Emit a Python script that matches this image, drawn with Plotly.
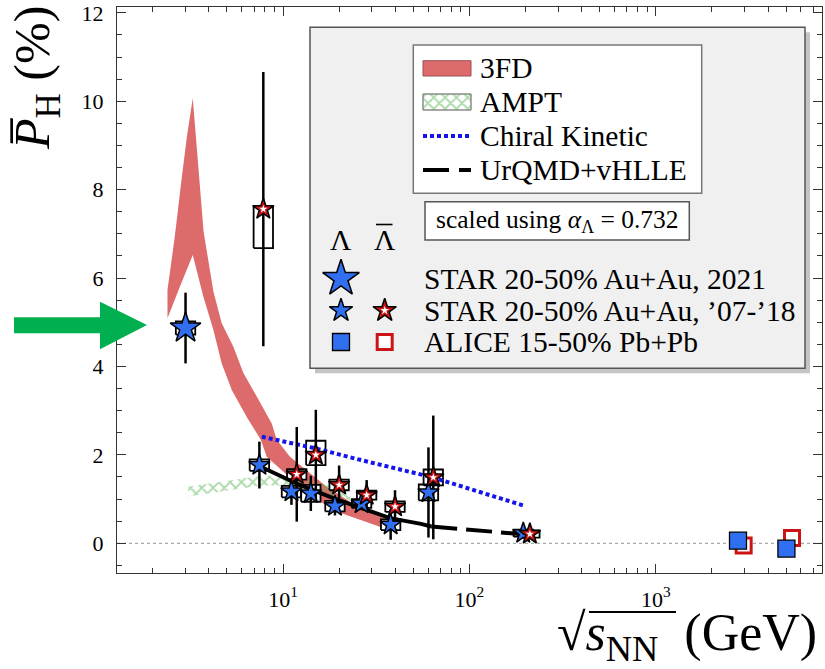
import plotly.graph_objects as go

# ---------------- data ----------------
# STAR 2021 (3 GeV) Lambda
star21_x = [3.0]
star21_y = [4.87]
star21_err = [0.80]
star21_sys = [0.15]

# STAR '07-'18 Lambda (blue)
lam_x = [7.47, 11.1, 14.1, 19.0, 26.4, 37.8, 60.3, 194.5]
lam_y = [1.77, 1.17, 1.13, 0.84, 0.90, 0.42, 1.15, 0.23]
lam_err = [0.53, 0.30, 0.40, 0.21, 0.15, 0.34, 1.02, 0.10]
lam_sys_lo = [0.13, 0.13, 0.19, 0.12, 0.10, 0.12, 0.18, 0.08]
lam_sys_hi = [0.13, 0.13, 0.19, 0.12, 0.10, 0.12, 0.18, 0.08]

# STAR '07-'18 anti-Lambda (red)
lbar_x = [7.84, 11.85, 15.0, 20.0, 28.1, 39.9, 64.0, 211.0]
lbar_y = [7.56, 1.56, 2.00, 1.32, 1.09, 0.83, 1.49, 0.21]
lbar_err = [3.10, 1.07, 1.02, 0.44, 0.34, 0.37, 1.40, 0.10]
lbar_sys_lo = [0.88, 0.12, 0.23, 0.12, 0.10, 0.12, 0.18, 0.08]
lbar_sys_hi = [0.05, 0.12, 0.32, 0.12, 0.10, 0.12, 0.18, 0.08]

# ALICE
alice_lam_x = [2760, 5020]
alice_lam_y = [0.06, -0.12]
alice_lbar_x = [2960, 5380]
alice_lbar_y = [-0.05, 0.12]

# 3FD band (upper and lower boundaries)
fd_up_x = [2.4, 2.62, 2.85, 3.05, 3.28, 3.75, 4.23, 4.69, 5.41, 6.13, 7.23, 8.70, 9.25, 10.9, 17.15, 26.85, 37.5]
fd_up_y = [5.73, 6.9, 8.2, 9.2, 10.07, 7.05, 5.7, 4.98, 4.45, 3.85, 3.32, 2.71, 2.34, 1.96, 1.28, 0.75, 0.52]
fd_lo_x = [2.4, 2.8, 3.28, 3.74, 4.23, 4.69, 5.31, 6.39, 7.6, 8.18, 12.34, 18.5, 34.0]
fd_lo_y = [5.09, 5.81, 6.52, 5.58, 4.83, 4.07, 3.47, 2.86, 2.34, 1.96, 1.28, 0.75, 0.36]

# AMPT band
ampt_x = [3.1, 4.0, 5.0, 6.2, 7.7, 9.5, 11.5, 14.5, 19.6, 23.0]
ampt_hi = [1.28, 1.35, 1.41, 1.47, 1.53, 1.53, 1.49, 1.40, 1.27, 1.19]
ampt_lo = [1.06, 1.13, 1.19, 1.25, 1.31, 1.31, 1.27, 1.18, 1.05, 0.97]

# Chiral kinetic
ck_x = [7.7, 14.5, 27, 62.4, 200]
ck_y = [2.41, 2.16, 1.87, 1.50, 0.84]

# UrQMD+vHLLE
uq_solid_x = [7.7, 12.3, 18.6, 28, 37.5, 55, 62.4]
uq_solid_y = [1.72, 1.32, 1.02, 0.75, 0.57, 0.44, 0.38]
uq_dash_x = [62.4, 133, 200]
uq_dash_y = [0.38, 0.26, 0.20]

x_tickvals = [10, 100, 1000]
x_ticktext = ["10<sup>1</sup>", "10<sup>2</sup>", "10<sup>3</sup>"]
y_tickvals = [0, 2, 4, 6, 8, 10, 12]
y_ticktext = ["0", "2", "4", "6", "8", "10", "12"]

# ---------------- layout helpers ----------------
W, H = 825, 669
L, R, T, B = 117, 3, 7, 96
X0, X1, Y0, Y1 = L, W - R, T, H - B      # plot frame in page pixels
FONT = "Liberation Serif, DejaVu Serif, serif"
BLUE = "#3070F0"
RED = "#CC1414"
BAND = "#DD6B6B"
GREEN_H = "#5CB85C"


def px(x):
    return (x - X0) / (X1 - X0)


def py(y):
    return (Y1 - y) / (Y1 - Y0)


BOXW = 10 ** 0.052  # half-width factor of systematic boxes (log axis)


def boxes(xs, ys, lo, hi):
    bx, by = [], []
    for x, y, a, b in zip(xs, ys, lo, hi):
        x0, x1 = x / BOXW, x * BOXW
        bx += [x0, x1, x1, x0, x0, None]
        by += [y - a, y - a, y + b, y + b, y - a, None]
    return bx, by


HATCH = dict(shape="x", fgcolor=GREEN_H, bgcolor="rgba(0,0,0,0)", size=8, solidity=0.42)

fig = go.Figure()

# 3FD band
fig.add_trace(go.Scatter(
    x=fd_up_x + fd_lo_x[::-1], y=fd_up_y + fd_lo_y[::-1],
    mode="lines", fill="toself", fillcolor=BAND, line=dict(width=0),
    hoverinfo="skip", showlegend=False))

# AMPT hatched band
fig.add_trace(go.Scatter(
    x=ampt_x + ampt_x[::-1], y=ampt_hi + ampt_lo[::-1],
    mode="lines", fill="toself", fillcolor="rgba(0,0,0,0)", line=dict(width=0),
    fillpattern=HATCH, hoverinfo="skip", showlegend=False))

# systematic boxes
sx, sy = boxes(star21_x, star21_y, star21_sys, star21_sys)
bx, by = boxes(lam_x, lam_y, lam_sys_lo, lam_sys_hi)
rx, ry = boxes(lbar_x, lbar_y, lbar_sys_lo, lbar_sys_hi)
fig.add_trace(go.Scatter(x=sx + bx + rx, y=sy + by + ry, mode="lines",
                         fill="toself", fillcolor="white",
                         line=dict(color="black", width=1.8),
                         hoverinfo="skip", showlegend=False))

# Chiral kinetic
fig.add_trace(go.Scatter(x=ck_x, y=ck_y, mode="lines",
                         line=dict(color="#1414EE", width=4, dash="4px,3px"),
                         hoverinfo="skip", showlegend=False))
# UrQMD+vHLLE
fig.add_trace(go.Scatter(x=uq_solid_x, y=uq_solid_y, mode="lines",
                         line=dict(color="black", width=4),
                         hoverinfo="skip", showlegend=False))
fig.add_trace(go.Scatter(x=uq_dash_x, y=uq_dash_y, mode="lines",
                         line=dict(color="black", width=4, dash="26px,9px"),
                         hoverinfo="skip", showlegend=False))

# error bars
err_style = dict(type="data", thickness=2.5, width=0, color="black")
inv = dict(size=1, color="rgba(0,0,0,0)")
fig.add_trace(go.Scatter(x=star21_x, y=star21_y, mode="markers", marker=inv,
                         error_y=dict(array=star21_err, **err_style), showlegend=False))
fig.add_trace(go.Scatter(x=lam_x, y=lam_y, mode="markers", marker=inv,
                         error_y=dict(array=lam_err, **err_style), showlegend=False))
fig.add_trace(go.Scatter(x=lbar_x, y=lbar_y, mode="markers", marker=inv,
                         error_y=dict(array=lbar_err, **err_style), showlegend=False))

# stars
fig.add_trace(go.Scatter(x=star21_x, y=star21_y, mode="markers",
                         marker=dict(symbol="star", size=23, color=BLUE,
                                     line=dict(color="black", width=1.5)),
                         showlegend=False))
fig.add_trace(go.Scatter(x=lam_x, y=lam_y, mode="markers",
                         marker=dict(symbol="star", size=16, color=BLUE,
                                     line=dict(color="black", width=1.5)),
                         showlegend=False))
fig.add_trace(go.Scatter(x=lbar_x, y=lbar_y, mode="markers",
                         marker=dict(symbol="star", size=16, color=RED,
                                     line=dict(color="black", width=1.5)),
                         showlegend=False))
fig.add_trace(go.Scatter(x=lbar_x, y=lbar_y, mode="markers",
                         marker=dict(symbol="star", size=6, color="white",
                                     line=dict(width=0)),
                         showlegend=False))

# ALICE squares
fig.add_trace(go.Scatter(x=alice_lbar_x, y=alice_lbar_y, mode="markers",
                         marker=dict(symbol="square", size=15, color="white",
                                     line=dict(color=RED, width=3)),
                         showlegend=False))
fig.add_trace(go.Scatter(x=alice_lam_x, y=alice_lam_y, mode="markers",
                         marker=dict(symbol="square", size=17, color=BLUE,
                                     line=dict(color="black", width=1.3)),
                         showlegend=False))

# ---------------- custom legend (paper-space helpers on x2/y2) ----------------
A2 = dict(xaxis="x2", yaxis="y2", hoverinfo="skip", showlegend=False)
fig.add_trace(go.Scatter(x=[px(423), px(471), px(471), px(423), px(423)],
                         y=[py(110), py(110), py(94), py(94), py(110)],
                         mode="lines", fill="toself", fillcolor="rgba(0,0,0,0)",
                         line=dict(color="#8a8a8a", width=1),
                         fillpattern=HATCH, **A2))
fig.add_trace(go.Scatter(x=[px(423), px(471)], y=[py(136), py(136)], mode="lines",
                         line=dict(color="#1414EE", width=4, dash="4px,3px"), **A2))
fig.add_trace(go.Scatter(x=[px(423), px(471)], y=[py(170), py(170)], mode="lines",
                         line=dict(color="black", width=4, dash="26px,10px"), **A2))
fig.add_trace(go.Scatter(x=[px(341)], y=[py(278.5)], mode="markers",
                         marker=dict(symbol="star", size=27.5, color=BLUE,
                                     line=dict(color="black", width=1.5)), **A2))
fig.add_trace(go.Scatter(x=[px(341)], y=[py(310.5)], mode="markers",
                         marker=dict(symbol="star", size=17.5, color=BLUE,
                                     line=dict(color="black", width=1.5)), **A2))
fig.add_trace(go.Scatter(x=[px(384.7)], y=[py(310.5)], mode="markers",
                         marker=dict(symbol="star", size=17.5, color=RED,
                                     line=dict(color="black", width=1.5)), **A2))
fig.add_trace(go.Scatter(x=[px(384.7)], y=[py(310.5)], mode="markers",
                         marker=dict(symbol="star", size=6.5, color="white",
                                     line=dict(width=0)), **A2))
fig.add_trace(go.Scatter(x=[px(341)], y=[py(342)], mode="markers",
                         marker=dict(symbol="square", size=17, color=BLUE,
                                     line=dict(color="black", width=1.3)), **A2))
fig.add_trace(go.Scatter(x=[px(384.7)], y=[py(342)], mode="markers",
                         marker=dict(symbol="square", size=15, color="white",
                                     line=dict(color=RED, width=3)), **A2))

shapes = []
# zero reference line
shapes.append(dict(type="line", xref="paper", yref="y", x0=0, x1=1, y0=0, y1=0,
                   line=dict(color="#aaaaaa", width=1.2, dash="dot"), layer="below"))


def rect(x0, y0, x1, y1, fill, lc, lw):
    return dict(type="rect", xref="paper", yref="paper",
                x0=px(x0), x1=px(x1), y0=py(y1), y1=py(y0),
                fillcolor=fill, line=dict(color=lc, width=lw), layer="below")


def hline(x0, x1, y, w=1.6):
    return dict(type="line", xref="paper", yref="paper", x0=px(x0), x1=px(x1),
                y0=py(y), y1=py(y), line=dict(color="black", width=w), layer="above")


shapes.append(rect(315, 32.3, 810, 373.3, "#c4c4c4", "rgba(0,0,0,0)", 0))
shapes.append(rect(310, 27.3, 805, 368.3, "#f0f0f0", "#555555", 1.5))
shapes.append(rect(413.3, 45, 701.7, 193.3, "white", "#777777", 1.5))
shapes.append(rect(423, 60.7, 471, 76, BAND, "#9a5050", 1))
shapes.append(rect(423, 94, 471, 110, "white", "#8a8a8a", 1))
shapes.append(rect(425, 201.7, 689.3, 240, "white", "#555555", 1.5))
# bar of the anti-Lambda header
shapes.append(hline(376, 392.5, 224.5))
# vinculum of the square root in the x title
shapes.append(hline(589, 676, 612, 1.8))

# green arrow
arrow = [(14, 317.3), (100, 317.3), (100, 301.7), (147, 325), (100, 349.3), (100, 333.3), (14, 333.3)]
path = "M " + " L ".join(f"{px(a):.5f},{py(b):.5f}" for a, b in arrow) + " Z"
shapes.append(dict(type="path", xref="paper", yref="paper", path=path,
                   fillcolor="#00B050", line=dict(width=0), layer="above"))

ann = []


def text(x, y, s, size=29.5, xanchor="left", angle=0):
    ann.append(dict(x=px(x), y=py(y), xref="paper", yref="paper", text=s,
                    showarrow=False, xanchor=xanchor, yanchor="middle",
                    textangle=angle, font=dict(family=FONT, size=size, color="black")))


text(478, 68, "3FD")
text(478, 102, "AMPT")
text(478, 136, "Chiral Kinetic")
text(478, 170, "UrQMD+vHLLE")
text(557, 221, "scaled using <i>α</i><sub>Λ</sub> = 0.732", size=25.5, xanchor="center")
text(341, 240, "Λ", xanchor="center")
text(384.7, 240, "Λ", xanchor="center")
text(421.7, 279, "STAR 20-50% Au+Au, 2021")
text(421.7, 311, "STAR 20-50% Au+Au, ’07-’18")
text(421.7, 342, "ALICE 15-50% Pb+Pb")
# axis titles
text(36, 78, "<i>P̅</i><sub>H</sub> (%)", size=50, xanchor="center", angle=-90)
text(819, 636, "√<i>s</i><sub>NN</sub> \u00a0(GeV)", size=52, xanchor="right")

x_minor = [m * 10 ** e for e in range(0, 4) for m in range(2, 10) if 1.3 < m * 10 ** e < 7800]

axis_common = dict(showline=True, linecolor="#333333", linewidth=1.3, mirror="ticks",
                   ticks="inside", ticklen=9, tickwidth=1.2, tickcolor="#333333",
                   showgrid=False, zeroline=False,
                   tickfont=dict(family=FONT, size=22, color="black"))

fig.update_layout(
    width=W, height=H,
    margin=dict(l=L, r=R, t=T, b=B, autoexpand=False),
    paper_bgcolor="white", plot_bgcolor="white",
    showlegend=False,
    xaxis=dict(type="log", range=[0.1094, 3.8916], tickmode="array",
               tickvals=x_tickvals, ticktext=x_ticktext, ticklabelstandoff=6,
               minor=dict(tickmode="array", tickvals=x_minor, ticks="inside",
                          ticklen=4.5, tickwidth=1, tickcolor="#333333"),
               **axis_common),
    yaxis=dict(range=[-0.672, 12.133], tickmode="array", tickvals=y_tickvals,
               ticktext=y_ticktext, ticklabelstandoff=8, ticklabeloverflow="allow",
               minor=dict(dtick=0.5, ticks="inside", ticklen=5, tickwidth=1,
                          tickcolor="#333333"),
               **axis_common),
    xaxis2=dict(domain=[0, 1], range=[0, 1], overlaying="x", anchor="y2", visible=False),
    yaxis2=dict(domain=[0, 1], range=[0, 1], overlaying="y", anchor="x2", visible=False),
    shapes=shapes,
    annotations=ann,
)

# remove the default 8px page margin so the 825x669 figure fills the window
fig.write_html("out.html", config={"displayModeBar": False},
               post_script="document.body.style.margin='0';")
